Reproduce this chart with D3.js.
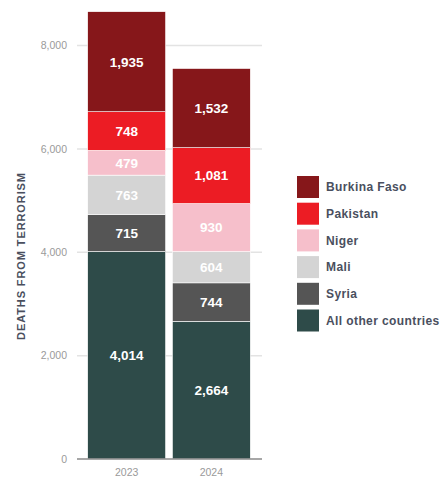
<!DOCTYPE html>
<html><head><meta charset="utf-8">
<script src="https://cdn.jsdelivr.net/npm/d3@7"></script>
<style>body{margin:0;background:#fff;}svg{display:block;font-family:"Liberation Sans",Arial,sans-serif;}</style>
</head><body><div id="chart"></div>
<script>
const years = ["2023", "2024"];
const countries = ["All other countries", "Syria", "Mali", "Niger", "Pakistan", "Burkina Faso"];
const legendOrder = ["Burkina Faso", "Pakistan", "Niger", "Mali", "Syria", "All other countries"];
const values2023 = [4014, 715, 763, 479, 748, 1935];
const values2024 = [2664, 744, 604, 930, 1081, 1532];
const colors = ["#2e4b49", "#555555", "#d4d4d4", "#f6bfcb", "#ec1c24", "#86171a"];
const yTicks = [0, 2000, 4000, 6000, 8000];
const yTitle = "DEATHS FROM TERRORISM";

const W = 440, H = 477;
const svg = d3.select("#chart").append("svg").attr("width", W).attr("height", H);

const rows = years.map((y, i) => {
  const o = {year: y};
  const vals = i === 0 ? values2023 : values2024;
  countries.forEach((c, j) => o[c] = vals[j]);
  return o;
});
const stacked = d3.stack().keys(countries)(rows);

const y = d3.scaleLinear().domain([0, 8000]).range([459, 45.5]);
const x = d3.scaleBand().domain(years).range([86, 252]).paddingInner(0.08).paddingOuter(0.02);
const color = d3.scaleOrdinal().domain(countries).range(colors);

// gridlines
svg.append("g").selectAll("line").data(yTicks.filter(t => t > 0)).join("line")
  .attr("x1", 77).attr("x2", 262)
  .attr("y1", d => y(d)).attr("y2", d => y(d))
  .attr("stroke", "#e3e3e3").attr("stroke-width", 1.5);

// tick labels
svg.append("g").selectAll("text").data(yTicks).join("text")
  .attr("x", 67).attr("y", d => y(d)).attr("dy", "0.35em")
  .attr("text-anchor", "end").attr("font-size", 10.5).attr("fill", "#9a9a9a")
  .text(d => d3.format(",")(d));

// bars
const layers = svg.append("g").selectAll("g").data(stacked).join("g")
  .attr("fill", d => color(d.key));
layers.selectAll("rect").data(d => d).join("rect")
  .attr("x", d => x(d.data.year))
  .attr("width", x.bandwidth())
  .attr("y", d => y(d[1]))
  .attr("height", d => y(d[0]) - y(d[1]))
  .attr("stroke", "#fff").attr("stroke-width", 0.6);

// value labels
layers.selectAll("text").data(d => d.map(p => ({p, key: d.key}))).join("text")
  .attr("x", d => x(d.p.data.year) + x.bandwidth() / 2)
  .attr("y", d => (y(d.p[0]) + y(d.p[1])) / 2)
  .attr("dy", "0.36em").attr("text-anchor", "middle")
  .attr("font-size", 13.5).attr("font-weight", "bold").attr("fill", "#fff")
  .text(d => d3.format(",")(d.p[1] - d.p[0]));

// baseline
svg.append("line").attr("x1", 77).attr("x2", 262).attr("y1", y(0)).attr("y2", y(0))
  .attr("stroke", "#8a8a8a").attr("stroke-width", 1.5);

// x labels
svg.append("g").selectAll("text").data(years).join("text")
  .attr("x", d => x(d) + x.bandwidth() / 2).attr("y", 476)
  .attr("text-anchor", "middle").attr("font-size", 10.5).attr("fill", "#9a9a9a")
  .text(d => d);

// y title
svg.append("text").attr("transform", "translate(25,256) rotate(-90)")
  .attr("text-anchor", "middle").attr("font-size", 11).attr("font-weight", "bold")
  .attr("letter-spacing", 0.9)
  .attr("fill", "#4a4f5e").text(yTitle);

// legend
const lg = svg.append("g").selectAll("g").data(legendOrder).join("g")
  .attr("transform", (d, i) => `translate(297,${176 + i * 26.7})`);
lg.append("rect").attr("width", 22).attr("height", 22).attr("fill", d => color(d));
lg.append("text").attr("x", 29).attr("y", 11).attr("dy", "0.35em")
  .attr("font-size", 12).attr("font-weight", "bold").attr("letter-spacing", 0.4)
  .attr("fill", "#4a4f5e").text(d => d);
</script></body></html>
